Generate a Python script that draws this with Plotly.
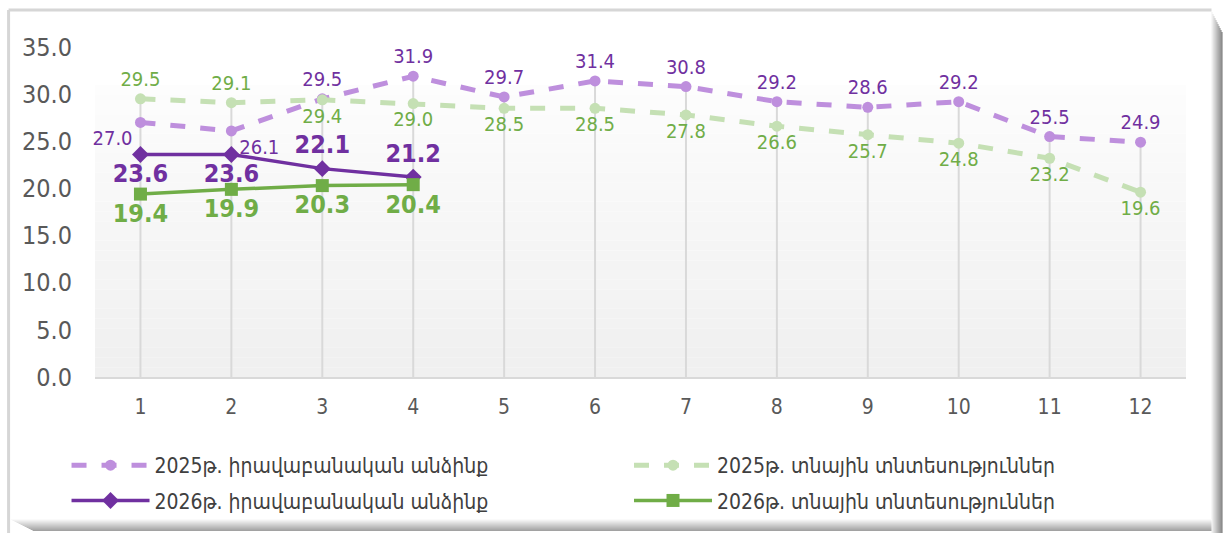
import plotly.graph_objects as go

# months and values
months = [1, 2, 3, 4, 5, 6, 7, 8, 9, 10, 11, 12]
legal_2025 = [27.0, 26.1, 29.5, 31.9, 29.7, 31.4, 30.8, 29.2, 28.6, 29.2, 25.5, 24.9]
house_2025 = [29.5, 29.1, 29.4, 29.0, 28.5, 28.5, 27.8, 26.6, 25.7, 24.8, 23.2, 19.6]
legal_2026 = [23.6, 23.6, 22.1, 21.2]
house_2026 = [19.4, 19.9, 20.3, 20.4]

names = ["2025թ. իրավաբանական անձինք", "2025թ. տնային տնտեսություններ",
         "2026թ. իրավաբանական անձինք", "2026թ. տնային տնտեսություններ"]

FONT = "DejaVu Sans Condensed, DejaVu Sans, sans-serif"

fig = go.Figure()

# drop lines from the highest point of each month down to the axis
drop_x, drop_y = [], []
for i, m in enumerate(months):
    vals = [legal_2025[i], house_2025[i]]
    if i < len(legal_2026):
        vals += [legal_2026[i], house_2026[i]]
    drop_x += [m, m, None]
    drop_y += [0, max(vals), None]
fig.add_trace(go.Scatter(x=drop_x, y=drop_y, mode="lines", line=dict(color="#d9d9d9", width=2),
                         hoverinfo="skip", showlegend=False))

pos_l25 = ["bottom left", "bottom right"] + ["top center"] * 10
pos_h25 = ["top center", "top center"] + ["bottom center"] * 10
pos_l26 = ["bottom center", "bottom center", "top center", "top center"]
pos_h26 = ["bottom center"] * 4

fig.add_trace(go.Scatter(
    x=months, y=legal_2025, name=names[0], mode="lines+markers+text", legend="legend",
    legendgroup="a",
    line=dict(color="#be8fdd", width=5, dash="dash"), marker=dict(size=11, color="#be8fdd"),
    text=[f"{v:.1f}" for v in legal_2025], textposition=pos_l25, cliponaxis=False,
    textfont=dict(size=20, color="#7030a0", family=FONT)))
fig.add_trace(go.Scatter(
    x=months, y=house_2025, name=names[1], mode="lines+markers+text", legend="legend2",
    legendgroup="b",
    line=dict(color="#c5e0b4", width=5, dash="dash"), marker=dict(size=11, color="#c5e0b4"),
    text=[f"{v:.1f}" for v in house_2025], textposition=pos_h25, cliponaxis=False,
    textfont=dict(size=20, color="#70ad47", family=FONT)))
fig.add_trace(go.Scatter(
    x=months[:4], y=legal_2026, name=names[2], mode="lines+markers+text", legend="legend",
    legendgroup="c",
    line=dict(color="#7030a0", width=3.5), marker=dict(size=13, symbol="diamond", color="#7030a0"),
    text=[f"<b>{v:.1f}</b>" for v in legal_2026], textposition=pos_l26, cliponaxis=False,
    textfont=dict(size=25, color="#7030a0", family=FONT)))
fig.add_trace(go.Scatter(
    x=months[:4], y=house_2026, name=names[3], mode="lines+markers+text", legend="legend2",
    legendgroup="d",
    line=dict(color="#70ad47", width=3.5), marker=dict(size=13, symbol="square", color="#70ad47"),
    text=[f"<b>{v:.1f}</b>" for v in house_2026], textposition=pos_h26, cliponaxis=False,
    textfont=dict(size=25, color="#70ad47", family=FONT)))

# soft vertical gradient behind the plot area
shapes = []
n = 30
top = 0.885
for k in range(n):
    g = int(240 + 13 * k / (n - 1))
    shapes.append(dict(type="rect", xref="paper", yref="paper", x0=0, x1=1,
                       y0=top * k / n, y1=top * (k + 1) / n,
                       fillcolor=f"rgb({g},{g},{g})", line=dict(width=0), layer="below"))

# chart frame with a bevel on the right and bottom
PW, PH, L, B0 = 1092, 330, 94.5, 377
def px_x(v):
    return (v - L) / PW
def px_y(v):
    return (B0 - v) / PH

shapes.append(dict(type="line", xref="paper", yref="paper", x0=px_x(8), x1=px_x(1212),
                   y0=px_y(10), y1=px_y(10), line=dict(color="#d6d6d6", width=3), layer="below"))
shapes.append(dict(type="line", xref="paper", yref="paper", x0=px_x(8), x1=px_x(8),
                   y0=px_y(533), y1=px_y(10), line=dict(color="#d6d6d6", width=3), layer="below"))
for k in range(11):
    g = int(240 - 14 * k)
    shapes.append(dict(type="rect", xref="paper", yref="paper", x0=px_x(1212 + k), x1=px_x(1213 + k),
                       y0=px_y(533), y1=px_y(12 + 2 * k),
                       fillcolor=f"rgb({g},{g},{g})", line=dict(width=0), layer="below"))
for k in range(12):
    g = int(250 - 8 * k)
    shapes.append(dict(type="rect", xref="paper", yref="paper", x0=px_x(10 + 2 * k), x1=px_x(1212),
                       y0=px_y(520 + k), y1=px_y(519 + k),
                       fillcolor=f"rgb({g},{g},{g})", line=dict(width=0), layer="below"))

leg_common = dict(orientation="v", xanchor="left", yanchor="top", itemwidth=78,
                  font=dict(size=21, color="#404040", family=FONT), tracegroupgap=5,
                  bgcolor="rgba(0,0,0,0)")

fig.update_layout(
    width=1223, height=533,
    margin=dict(l=94.5, r=36.5, t=47, b=156, autoexpand=False),
    paper_bgcolor="white", plot_bgcolor="rgba(0,0,0,0)",
    font=dict(family=FONT, color="#595959"),
    shapes=shapes,
    showlegend=True,
    legend=dict(x=px_x(66), y=px_y(445), **leg_common),
    legend2=dict(x=px_x(629), y=px_y(445), **leg_common),
)
fig.update_xaxes(range=[0.5, 12.5], tickvals=months, showgrid=False, zeroline=False,
                 showline=True, linecolor="#d9d9d9", linewidth=2,
                 tickfont=dict(size=21, color="#595959"), ticks="", ticklabelstandoff=10)
fig.update_yaxes(range=[0, 35], dtick=5, tickformat=".1f", showgrid=False, zeroline=False,
                 showline=False, tickfont=dict(size=25, color="#595959"), ticks="",
                 ticklabelstandoff=22)

fig.write_html("out.html", config={"displayModeBar": False},
               post_script="document.body.style.margin='0';")
